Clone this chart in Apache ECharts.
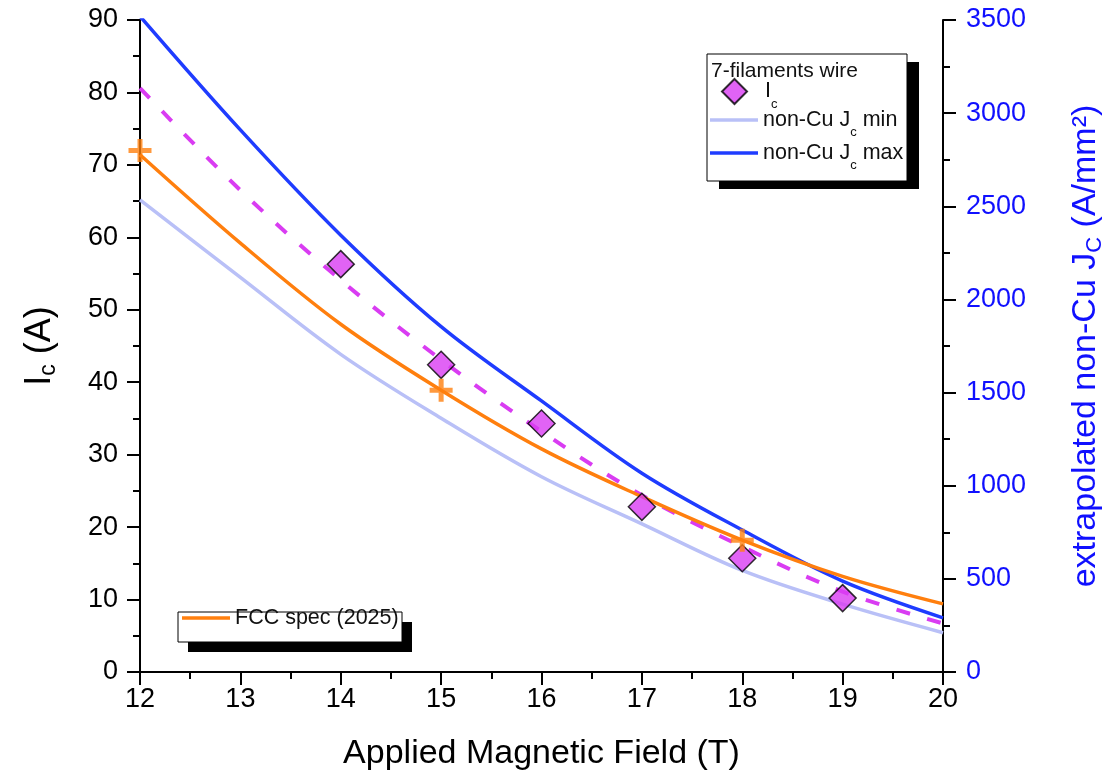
<!DOCTYPE html>
<html>
<head>
<meta charset="utf-8">
<title>Ic vs field</title>
<script src="https://cdn.jsdelivr.net/npm/echarts@6/dist/echarts.min.js"></script>
<style>
  html, body { margin: 0; padding: 0; background: #fff; }
  #chart { width: 1114px; height: 778px; }
</style>
</head>
<body>
<div id="chart"></div>
<script>
// applied field (T) for the fitted curves
const fieldT = [12, 13, 14, 15, 16, 17, 18, 19, 20]
// non-Cu Jc (A/mm2), right axis
const jcMax = [3520, 2910, 2345, 1854, 1455, 1067, 762, 488, 291]
const jcMin = [2535, 2118, 1705, 1362, 1048, 795, 545, 364, 211]
// Ic fit (A), dashed
const icFit = [80.6, 66.5, 54.1, 43.1, 33.2, 24.4, 17.3, 11.1, 6.7]
// FCC spec curve (A)
const fccSpec = [71.4, 59.2, 48.0, 38.9, 30.8, 24.2, 18.2, 13.2, 9.4]
// measured Ic (A)
const icField = [14, 15, 16, 17, 18, 19]
const icMeas = [56.3, 42.4, 34.3, 22.8, 15.7, 10.2]
// FCC spec points
const specField = [12, 15, 18]
const specVal = [72.0, 38.9, 18.2]

const FONT = 'Liberation Sans, Arial, sans-serif'
const BLUE = '#1f3cff'
const LIGHT = '#b9c0f7'
const ORANGE = '#ff7f0e'
const MAGENTA = '#d93cf2'
const AXISBLUE = '#1010ff'

const pairs = (xs, ys) => xs.map((x, i) => [x, ys[i]])

const legendText = {
  'Ic': '{p|I}{s|c}',
  'non-Cu Jc min': '{n|non-Cu J}{s|c}{n| min}',
  'non-Cu Jc max': '{n|non-Cu J}{s|c}{n| max}',
  'FCC spec (2025)': '{n|FCC spec (2025)}'
}
const legendRich = {
  n: { fontFamily: FONT, fontSize: 21.5, lineHeight: 38, color: '#111' },
  p: { fontFamily: FONT, fontSize: 21.5, lineHeight: 38, color: '#111', padding: [0, 0, 0, 13] },
  s: { fontFamily: FONT, fontSize: 13, lineHeight: 13, verticalAlign: 'bottom', color: '#111' }
}
function makeLegend (name, icon, left, centerY, iconW, iconH) {
  return {
    data: [{ name: name, icon: icon }],
    left: left,
    top: centerY - 19,
    orient: 'horizontal',
    padding: 0,
    itemWidth: iconW,
    itemHeight: iconH,
    selectedMode: false,
    z: 10,
    formatter: function (n) { return legendText[n] },
    textStyle: { rich: legendRich }
  }
}

const chart = echarts.init(document.getElementById('chart'), null, { renderer: 'canvas' })

const axisBase = {
  axisLine: { show: true, lineStyle: { color: '#000', width: 2 } },
  splitLine: { show: false }
}
const plain = function (v) { return String(v) }

const curve = {
  type: 'line',
  smooth: 0.35,
  symbol: 'none',
  clip: true
}

chart.setOption({
  backgroundColor: '#fff',
  animation: false,
  grid: { left: 140, right: 171, top: 20, bottom: 106, outerBoundsMode: 'none' },
  xAxis: [
    {
      type: 'value',
      min: 12,
      max: 20,
      interval: 1,
      position: 'bottom',
      ...axisBase,
      axisTick: { show: true, inside: false, length: 13, lineStyle: { color: '#000', width: 2 } },
      minorTick: { show: true, splitNumber: 2, length: 7, lineStyle: { color: '#000', width: 2 } },
      axisLabel: { fontFamily: FONT, fontSize: 27, color: '#000', margin: 14, formatter: plain },
      name: 'Applied Magnetic Field (T)',
      nameLocation: 'middle',
      nameGap: 62,
      nameTextStyle: { fontFamily: FONT, fontSize: 34, lineHeight: 40, color: '#000' }
    },
    {
      type: 'value',
      min: 12,
      max: 20,
      interval: 1,
      position: 'top',
      ...axisBase,
      axisTick: { show: true, inside: true, length: 13, lineStyle: { color: '#000', width: 2 } },
      minorTick: { show: true, splitNumber: 2, length: 7, lineStyle: { color: '#000', width: 2 } },
      axisLabel: { show: false }
    }
  ],
  yAxis: [
    {
      type: 'value',
      min: 0,
      max: 90,
      interval: 10,
      position: 'left',
      ...axisBase,
      axisTick: { show: true, inside: false, length: 13, lineStyle: { color: '#000', width: 2 } },
      minorTick: { show: true, splitNumber: 2, length: 7, lineStyle: { color: '#000', width: 2 } },
      axisLabel: { fontFamily: FONT, fontSize: 27, color: '#000', margin: 22, formatter: plain },
      name: '{m|I}{s|c}{m| (A)}',
      nameLocation: 'middle',
      nameRotate: 90,
      nameGap: 80,
      nameTextStyle: {
        rich: {
          m: { fontFamily: FONT, fontSize: 36, lineHeight: 40, color: '#000' },
          s: { fontFamily: FONT, fontSize: 23, lineHeight: 27, verticalAlign: 'bottom', color: '#000' }
        }
      }
    },
    {
      type: 'value',
      min: 0,
      max: 3500,
      interval: 500,
      position: 'right',
      ...axisBase,
      axisTick: { show: true, inside: false, length: 13, lineStyle: { color: '#000', width: 2 } },
      minorTick: { show: true, splitNumber: 2, length: 7, lineStyle: { color: '#000', width: 2 } },
      axisLabel: { fontFamily: FONT, fontSize: 27, color: AXISBLUE, margin: 23, formatter: plain },
      name: '{b|extrapolated non-Cu J}{bs|C}{b| (A/mm²)}',
      nameLocation: 'middle',
      nameRotate: 90,
      nameGap: 123,
      nameTextStyle: {
        rich: {
          b: { fontFamily: FONT, fontSize: 34, lineHeight: 40, color: AXISBLUE },
          bs: { fontFamily: FONT, fontSize: 22, lineHeight: 24, verticalAlign: 'bottom', color: AXISBLUE }
        }
      }
    }
  ],
  legend: [
    makeLegend('Ic', 'diamond', 721, 97, 25, 25),
    makeLegend('non-Cu Jc min', 'rect', 710, 128, 48, 3.5),
    makeLegend('non-Cu Jc max', 'rect', 710, 161, 48, 3.5),
    makeLegend('FCC spec (2025)', 'rect', 182, 626, 48, 3.5)
  ],
  graphic: [
    { type: 'rect', z: 1, shape: { x: 719, y: 62, width: 200, height: 127 }, style: { fill: '#000' } },
    { type: 'rect', z: 2, shape: { x: 707, y: 54, width: 200, height: 127 }, style: { fill: '#fff', stroke: '#000', lineWidth: 1 } },
    { type: 'text', z: 3, x: 711, y: 71, style: { text: '7-filaments wire', font: '21px ' + FONT, fill: '#111', verticalAlign: 'middle' } },
    { type: 'rect', z: 1, shape: { x: 188, y: 622, width: 224, height: 30 }, style: { fill: '#000' } },
    { type: 'rect', z: 2, shape: { x: 178, y: 612, width: 224, height: 30 }, style: { fill: '#fff', stroke: '#000', lineWidth: 1 } }
  ],
  series: [
    {
      ...curve,
      name: 'non-Cu Jc min',
      yAxisIndex: 1,
      data: pairs(fieldT, jcMin),
      lineStyle: { color: LIGHT, width: 3.5 },
      itemStyle: { color: LIGHT }
    },
    {
      ...curve,
      name: 'non-Cu Jc max',
      yAxisIndex: 1,
      data: pairs(fieldT, jcMax),
      lineStyle: { color: BLUE, width: 3.5 },
      itemStyle: { color: BLUE }
    },
    {
      ...curve,
      name: 'Ic fit',
      data: pairs(fieldT, icFit),
      lineStyle: { color: MAGENTA, width: 4, type: [14, 18] },
      itemStyle: { color: MAGENTA }
    },
    {
      ...curve,
      name: 'FCC spec (2025)',
      data: pairs(fieldT, fccSpec),
      lineStyle: { color: ORANGE, width: 3.5 },
      itemStyle: { color: ORANGE }
    },
    {
      name: 'Ic',
      type: 'scatter',
      data: pairs(icField, icMeas),
      symbol: 'diamond',
      symbolSize: 27,
      itemStyle: { color: MAGENTA, borderColor: '#000', borderWidth: 1.5 },
      z: 5
    },
    {
      name: 'FCC points',
      type: 'scatter',
      data: pairs(specField, specVal),
      symbol: 'path://M9,0h5v9h9v5h-9v9h-5v-9h-9v-5h9z',
      symbolSize: 23,
      clip: true,
      itemStyle: { color: ORANGE },
      z: 6
    }
  ]
})
</script>
</body>
</html>
